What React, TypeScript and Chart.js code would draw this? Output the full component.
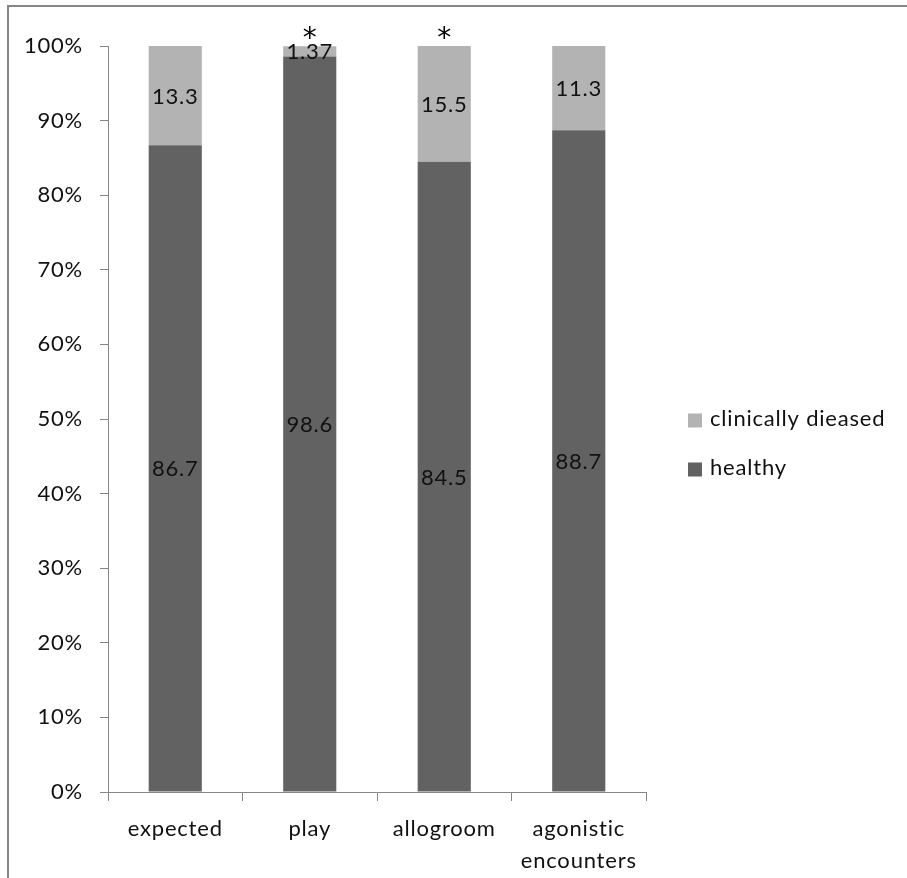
import React, { useEffect, useRef } from "react";
import { Chart, registerables } from "chart.js";

Chart.register(...registerables);

// Behaviour categories (last one wraps onto two lines)
const categories: (string | string[])[] = ["expected", "play", "allogroom", ["agonistic", "encounters"]];
// Percentage of each group per category
const healthy = [86.7, 98.6, 84.5, 88.7];
const clinicallyDiseased = [13.3, 1.37, 15.5, 11.3];
// Significance markers above each stack
const significance = ["", "*", "*", ""];
// Y-axis ticks (percent)
const yTicks = [0, 10, 20, 30, 40, 50, 60, 70, 80, 90, 100];

const FONT = "Lato, 'Open Sans', sans-serif";
const FONT_SIZE = 22;
const LETTER_SPACING = "0.8px";
const AXIS_GREY = "#868686";
const DARK = "#626262";
const LIGHT = "#B3B3B3";
const TEXT = "#111111";

// Slightly spaced-out lettering for every text drawn on the canvas
const spacingPlugin = {
  id: "letterSpacing",
  beforeLayout(chart: any) {
    chart.ctx.letterSpacing = LETTER_SPACING;
  },
  beforeDraw(chart: any) {
    chart.ctx.letterSpacing = LETTER_SPACING;
  },
};

const framePlugin = {
  id: "frame",
  beforeDraw(chart: any) {
    const { ctx, width, height } = chart;
    ctx.save();
    ctx.fillStyle = "#ffffff";
    ctx.fillRect(0, 0, width, height);
    ctx.strokeStyle = AXIS_GREY;
    ctx.lineWidth = 2;
    ctx.beginPath();
    ctx.moveTo(8, height);
    ctx.lineTo(8, 6);
    ctx.lineTo(width, 6);
    ctx.stroke();
    ctx.restore();
  },
};

const valueLabelPlugin = {
  id: "valueLabels",
  afterDatasetsDraw(chart: any) {
    const { ctx } = chart;
    ctx.save();
    ctx.font = `${FONT_SIZE}px ${FONT}`;
    ctx.fillStyle = TEXT;
    ctx.textAlign = "center";
    ctx.textBaseline = "middle";
    chart.data.datasets.forEach((ds: any, di: number) => {
      const meta = chart.getDatasetMeta(di);
      meta.data.forEach((bar: any, i: number) => {
        const v = ds.data[i];
        const cy = (bar.y + bar.base) / 2;
        ctx.fillText(String(v), bar.x, cy + 1);
      });
    });
    // significance asterisks above the stacks
    const yScale = chart.scales.y;
    const topMeta = chart.getDatasetMeta(chart.data.datasets.length - 1);
    ctx.font = `28px 'DejaVu Sans', sans-serif`;
    ctx.textBaseline = "alphabetic";
    ctx.fillStyle = "#000000";
    ctx.letterSpacing = "0px";
    topMeta.data.forEach((bar: any, i: number) => {
      if (significance[i]) {
        ctx.fillText(significance[i], bar.x, yScale.getPixelForValue(100) + 1);
      }
    });
    ctx.restore();
  },
};

const legendPlugin = {
  id: "sideLegend",
  afterDraw(chart: any) {
    const { ctx, chartArea } = chart;
    const items = chart.data.datasets.map((d: any) => ({ label: d.label, color: d.backgroundColor })).reverse();
    const x = chartArea.right + 42;
    const spacing = 49;
    const startY = (chartArea.top + chartArea.bottom) / 2 + 1;
    ctx.save();
    ctx.font = `${FONT_SIZE}px ${FONT}`;
    ctx.textBaseline = "middle";
    ctx.textAlign = "left";
    items.forEach((it: any, i: number) => {
      const cy = startY + i * spacing;
      ctx.fillStyle = it.color;
      ctx.fillRect(x, cy - 6.5, 14, 14);
      ctx.fillStyle = TEXT;
      ctx.fillText(it.label, x + 22, cy - 1);
    });
    ctx.restore();
  },
};

export default function App() {
  const canvasRef = useRef<HTMLCanvasElement | null>(null);

  useEffect(() => {
    if (!canvasRef.current) return;
    const chart = new Chart(canvasRef.current, {
      type: "bar",
      data: {
        labels: categories,
        datasets: [
          { label: "healthy", data: healthy, backgroundColor: DARK, borderWidth: 0 },
          { label: "clinically dieased", data: clinicallyDiseased, backgroundColor: LIGHT, borderWidth: 0 },
        ],
      },
      options: {
        responsive: false,
        animation: false,
        layout: { padding: { top: 46, right: 261, bottom: 0, left: 0 } },
        plugins: {
          legend: { display: false },
          tooltip: { enabled: false },
        },
        datasets: {
          bar: { categoryPercentage: 1, barPercentage: 0.395 },
        },
        scales: {
          x: {
            stacked: true,
            offset: true,
            grid: {
              drawOnChartArea: false,
              drawTicks: true,
              tickLength: 9,
              color: AXIS_GREY,
              offset: true,
            },
            border: { color: AXIS_GREY, width: 1 },
            ticks: {
              color: TEXT,
              font: { family: FONT, size: FONT_SIZE, lineHeight: 1.45 },
              padding: 12,
              maxRotation: 0,
              autoSkip: false,
            },
            afterFit(scale: any) {
              scale.height = 86;
            },
          },
          y: {
            stacked: true,
            min: 0,
            max: 100,
            afterBuildTicks(scale: any) {
              scale.ticks = yTicks.map((v) => ({ value: v }));
            },
            grid: {
              drawOnChartArea: false,
              drawTicks: true,
              tickLength: 8,
              color: AXIS_GREY,
            },
            border: { color: AXIS_GREY, width: 1 },
            ticks: {
              color: TEXT,
              font: { family: FONT, size: FONT_SIZE },
              padding: 17,
              callback: (v: any) => `${v}%`,
            },
            afterFit(scale: any) {
              scale.width = 108;
            },
          },
        },
      },
      plugins: [spacingPlugin, framePlugin, valueLabelPlugin, legendPlugin],
    });
    return () => chart.destroy();
  }, []);

  return (
    <div style={{ position: "absolute", left: 0, top: 0, width: 907, height: 878 }}>
      <canvas ref={canvasRef} width={907} height={878} style={{ display: "block" }} />
    </div>
  );
}
